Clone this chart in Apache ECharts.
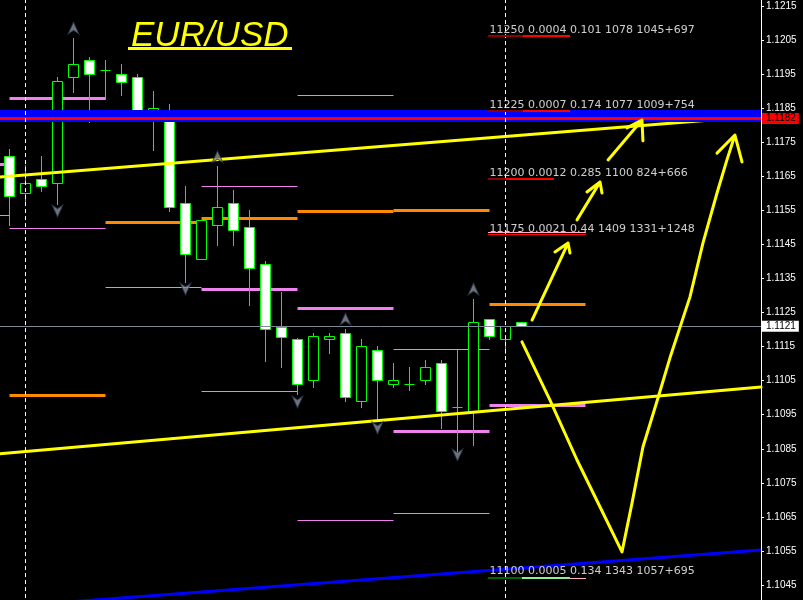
<!DOCTYPE html>
<html>
<head>
<meta charset="utf-8">
<script src="https://cdn.jsdelivr.net/npm/echarts@6/dist/echarts.min.js"></script>
<style>
  html, body { margin: 0; padding: 0; background: #000; }
  #chart { width: 803px; height: 600px; }
</style>
</head>
<body>
<div id="chart"></div>
<script>
// ---- EUR/USD hourly bars: [open, close, low, high] ----
const ohlc = [
  [1.11710, 1.11592, 1.11507, 1.11730],
  [1.11601, 1.11630, 1.11578, 1.11683],
  [1.11642, 1.11622, 1.11607, 1.11710],
  [1.11630, 1.11930, 1.11569, 1.11942],
  [1.11942, 1.11980, 1.11898, 1.12056],
  [1.11991, 1.11950, 1.11809, 1.12000],
  [1.11962, 1.11962, 1.11877, 1.11991],
  [1.11950, 1.11927, 1.11889, 1.11980],
  [1.11942, 1.11827, 1.11824, 1.11950],
  [1.11824, 1.11851, 1.11727, 1.11900],
  [1.11842, 1.11560, 1.11548, 1.11862],
  [1.11572, 1.11422, 1.11340, 1.11622],
  [1.11407, 1.11522, 1.11407, 1.11522],
  [1.11507, 1.11560, 1.11448, 1.11680],
  [1.11572, 1.11492, 1.11448, 1.11610],
  [1.11501, 1.11381, 1.11272, 1.11551],
  [1.11393, 1.11202, 1.11108, 1.11400],
  [1.11208, 1.11178, 1.11090, 1.11310],
  [1.11172, 1.11040, 1.11011, 1.11175],
  [1.11052, 1.11181, 1.11031, 1.11190],
  [1.11172, 1.11181, 1.11131, 1.11190],
  [1.11190, 1.11002, 1.10990, 1.11202],
  [1.10990, 1.11152, 1.10973, 1.11172],
  [1.11140, 1.11052, 1.10934, 1.11152],
  [1.11040, 1.11052, 1.11031, 1.11102],
  [1.11040, 1.11040, 1.11023, 1.11090],
  [1.11052, 1.11090, 1.11040, 1.11111],
  [1.11102, 1.10961, 1.10911, 1.11111],
  [1.10973, 1.10973, 1.10838, 1.11140],
  [1.10961, 1.11222, 1.10861, 1.11290],
  [1.11231, 1.11181, 1.11172, 1.11231],
  [1.11172, 1.11210, 1.11131, 1.11210],
  [1.11222, 1.11210, 1.11210, 1.11222]
];

// price scale ticks: every 10 pips starting from 1.1045
const tickBase = 1.1045;
const tickStepPips = 10;

// key horizontal levels
const bidPrice = 1.1121;
const resistancePrice = 1.1182;
const resistanceBand = 1.11829;

// session separators (bar index)
const sessionStarts = [1, 31];

// daily range levels: [fromBar, toBar, price]
const violetThick = [
  [-6, 0, 1.11686], [0, 6, 1.11880], [6, 12, 1.11833], [12, 18, 1.11319],
  [18, 24, 1.11263], [24, 30, 1.10902], [30, 36, 1.10979]
];
const violetThin = [
  [-6, 0, 1.11536], [0, 6, 1.11498], [6, 12, 1.11325], [12, 18, 1.11622],
  [12, 18, 1.11020], [18, 24, 1.11889], [18, 24, 1.10641], [24, 30, 1.11143],
  [24, 30, 1.10661]
];
const orangeThick = [
  [0, 6, 1.11008], [6, 12, 1.11516], [12, 18, 1.11528], [18, 24, 1.11548],
  [24, 30, 1.11551], [30, 36, 1.11275]
];

// trend lines: [bar, price] end points
const upperTrend = [[-0.6, 1.11648], [46.97, 1.11827]];
const lowerTrend = [[-0.6, 1.10835], [46.97, 1.11031]];
const supportTrend = [[-0.6, 1.10385], [46.97, 1.10553]];

// hand-drawn projection arrows: [bar, price]
const arrowA = [[32.66, 1.11228], [34.91, 1.11454], [34.09, 1.11428], [34.91, 1.11454], [35.03, 1.11425]];
const arrowB = [[35.47, 1.11522], [36.91, 1.11633], [36.09, 1.11604], [36.91, 1.11633], [37.03, 1.11601]];
const arrowC = [[37.41, 1.11698], [39.53, 1.11815], [38.59, 1.11792], [39.53, 1.11815], [39.59, 1.11754]];
const arrowD = [
  [32.03, 1.11164], [33.78, 1.10993], [35.47, 1.10817], [36.91, 1.10679], [38.28, 1.10547],
  [38.91, 1.10691], [39.59, 1.10855], [40.53, 1.10999], [41.28, 1.11117], [42.53, 1.11296],
  [43.34, 1.11454], [44.22, 1.11601], [44.84, 1.11698], [45.34, 1.11771], [44.22, 1.11718],
  [45.34, 1.11771], [45.78, 1.11692]
];

// fractal markers: [bar, price]
const fractalUp = [[4, 1.12085], [13, 1.11707], [21, 1.11231], [29, 1.11319]];
const fractalDown = [[3, 1.11548], [11, 1.11319], [18, 1.10987], [23, 1.10911], [28, 1.10832]];

// option-level stats text
const statBar = 30.0;
const statPrices = [1.12080, 1.11859, 1.11660, 1.11495, 1.10491];
const statTexts = [
  '11250 0.0004 0.101 1078 1045+697',
  '11225 0.0007 0.174 1077 1009+754',
  '11200 0.0012 0.285 1100 824+666',
  '11175 0.0021 0.44 1409 1331+1248',
  '11100 0.0005 0.134 1343 1057+695'
];
// underline bars under the stats text: [fromBar, toBar, price]
const ulDarkRed = [[29.91, 32.09, 1.12062], [29.91, 32.09, 1.11842], [29.91, 31.03, 1.11642]];
const ulRed = [[32.09, 35.03, 1.12062], [32.09, 35.03, 1.11842], [31.03, 34.03, 1.11642]];
const ulRedThin = [[29.91, 36.03, 1.11481]];
const ulPinkThin = [[29.91, 36.03, 1.11487], [35.03, 36.03, 1.10471]];
const ulDarkGreen = [[29.91, 32.03, 1.10471]];
const ulLightGreen = [[32.03, 35.03, 1.10471]];

// ---- helpers ----
// axis works in pips above tickBase so that ticks land on x.xxx5
const toAxis = p => (p - tickBase) * 10000;
const fromAxis = v => (tickBase + v / 10000).toFixed(4);
const pts = arr => arr.map(d => [d[0], toAxis(d[1])]);

function segSeries(data, color, width, z) {
  return {
    type: 'custom',
    z: z,
    silent: true,
    encode: { x: [0, 1], y: 2 },
    data: data.map(d => [d[0], d[1], toAxis(d[2])]),
    renderItem: function (params, api) {
      const a = api.coord([api.value(0), api.value(2)]);
      const b = api.coord([api.value(1), api.value(2)]);
      const y = width % 2 ? Math.round(a[1]) + 0.5 : Math.round(a[1]);
      return {
        type: 'line',
        shape: { x1: a[0], y1: y, x2: b[0], y2: y },
        style: { stroke: color, lineWidth: width }
      };
    }
  };
}

function candleRender(params, api) {
  const i = api.value(0);
  const o = api.value(1), c = api.value(2), l = api.value(3), h = api.value(4);
  const pO = api.coord([i, o]), pC = api.coord([i, c]);
  const pL = api.coord([i, l]), pH = api.coord([i, h]);
  const x = Math.floor(pO[0]) + 0.5;
  const top = Math.round(Math.min(pO[1], pC[1])) + 0.5;
  const bot = Math.round(Math.max(pO[1], pC[1])) + 0.5;
  const children = [{
    type: 'line',
    shape: { x1: x, y1: Math.round(pH[1]), x2: x, y2: Math.round(pL[1]) + 1 },
    style: { stroke: '#00ff00', lineWidth: 1 }
  }];
  if (bot - top < 1) {
    children.push({
      type: 'line',
      shape: { x1: x - 5, y1: top, x2: x + 5, y2: top },
      style: { stroke: '#00ff00', lineWidth: 1 }
    });
  } else {
    children.push({
      type: 'rect',
      shape: { x: x - 5, y: top, width: 10, height: bot - top },
      style: { fill: c < o ? '#ffffff' : '#000000', stroke: '#00ff00', lineWidth: 1 }
    });
  }
  return { type: 'group', children: children };
}

function yellowLine(data, z) {
  return {
    type: 'line', z: z, silent: true, symbol: 'none', animation: false,
    data: pts(data),
    lineStyle: { color: '#ffff00', width: 3, cap: 'round', join: 'round' }
  };
}

const upPath = 'path://M6,0 L12,13 L6,9 L0,13 Z';
const downPath = 'path://M0,0 L6,4 L12,0 L6,13 Z';

const chart = echarts.init(document.getElementById('chart'), null, { renderer: 'canvas' });

const option = {
  backgroundColor: '#000000',
  animation: false,
  title: {
    text: 'EUR/USD',
    left: 131, top: 19, padding: 0,
    textStyle: {
      color: '#ffff00', fontStyle: 'italic', fontWeight: 'normal',
      fontSize: 35, fontFamily: 'Liberation Sans'
    }
  },
  graphic: [{
    type: 'rect', z: 10,
    shape: { x: 128, y: 47, width: 164, height: 3 },
    style: { fill: '#ffff00' }
  }],
  grid: {
    left: 0, right: 42, top: -28.08, bottom: -19.06,
    containLabel: false, outerBoundsMode: 'none', show: false
  },
  xAxis: {
    type: 'value', min: -0.59375, max: 46.96875, show: false,
    axisLine: { onZero: false },
    splitLine: { show: false }
  },
  yAxis: {
    type: 'value', position: 'right',
    min: -tickStepPips, max: 180, interval: tickStepPips,
    axisLine: { show: true, onZero: false, lineStyle: { color: '#ffffff', width: 1 } },
    axisTick: { show: true, inside: false, length: 3, lineStyle: { color: '#ffffff' } },
    splitLine: { show: false },
    axisLabel: {
      color: '#ffffff', fontFamily: 'Liberation Sans', fontSize: 10, margin: 5,
      formatter: v => fromAxis(v)
    }
  },
  series: [
    // resistance band, its centre line and the bid line
    {
      type: 'line', z: 1, data: [], silent: true,
      markLine: {
        silent: true, symbol: ['none', 'none'], animation: false,
        data: [
          { yAxis: toAxis(resistanceBand), lineStyle: { color: '#0000ff', width: 12, type: 'solid' }, label: { show: false } },
          {
            yAxis: toAxis(resistancePrice),
            lineStyle: { color: '#ff0000', width: 3, type: 'solid' },
            label: {
              show: true, position: 'end', distance: 1,
              formatter: p => fromAxis(p.value),
              backgroundColor: '#ff0000', color: '#000000',
              fontFamily: 'Liberation Sans', fontSize: 10, padding: [1, 3, 0, 4]
            }
          },
          {
            yAxis: toAxis(bidPrice),
            lineStyle: { color: '#7a8898', width: 1, type: 'solid' },
            label: {
              show: true, position: 'end', distance: 1,
              formatter: p => fromAxis(p.value),
              backgroundColor: '#ffffff', color: '#000000',
              fontFamily: 'Liberation Sans', fontSize: 10, padding: [1, 3, 0, 4]
            }
          }
        ].concat(sessionStarts.map(b => ({
          xAxis: b,
          lineStyle: { color: '#ffffff', width: 1, type: [4, 3] },
          label: { show: false }
        })))
      }
    },
    segSeries(violetThin, '#ee82ee', 1, 2),
    segSeries(violetThick, '#ee82ee', 3, 2),
    segSeries(orangeThick, '#ff8c00', 3, 2),
    {
      type: 'custom', z: 3, silent: true,
      encode: { x: 0, y: [1, 2, 3, 4] },
      data: ohlc.map((d, i) => [i, toAxis(d[0]), toAxis(d[1]), toAxis(d[2]), toAxis(d[3])]),
      renderItem: candleRender
    },
    yellowLine(upperTrend, 4),
    yellowLine(lowerTrend, 4),
    {
      type: 'line', z: 4, silent: true, symbol: 'none',
      data: pts(supportTrend),
      lineStyle: { color: '#0000ff', width: 3 }
    },
    yellowLine(arrowA, 5),
    yellowLine(arrowB, 5),
    yellowLine(arrowC, 5),
    yellowLine(arrowD, 5),
    {
      type: 'scatter', z: 6, silent: true,
      symbol: upPath, symbolSize: [11, 12],
      itemStyle: { color: '#8a8f96', borderColor: '#22324a', borderWidth: 1 },
      data: pts(fractalUp)
    },
    {
      type: 'scatter', z: 6, silent: true,
      symbol: downPath, symbolSize: [11, 12],
      itemStyle: { color: '#8a8f96', borderColor: '#22324a', borderWidth: 1 },
      data: pts(fractalDown)
    },
    segSeries(ulDarkRed, '#8b0000', 2, 6),
    segSeries(ulRed, '#ff0000', 2, 6),
    segSeries(ulRedThin, '#ff0000', 1, 6),
    segSeries(ulPinkThin, '#ffb0c8', 1, 6),
    segSeries(ulDarkGreen, '#006400', 2, 6),
    segSeries(ulLightGreen, '#90ee90', 2, 6),
    {
      type: 'scatter', z: 7, silent: true,
      symbolSize: 0,
      data: statPrices.map((p, k) => ({ value: [statBar, toAxis(p)], name: statTexts[k] })),
      label: {
        show: true, position: 'right', distance: 0,
        formatter: p => p.name,
        color: '#ffffff', fontFamily: 'DejaVu Sans', fontSize: 11
      }
    }
  ]
};

chart.setOption(option);
</script>
</body>
</html>
